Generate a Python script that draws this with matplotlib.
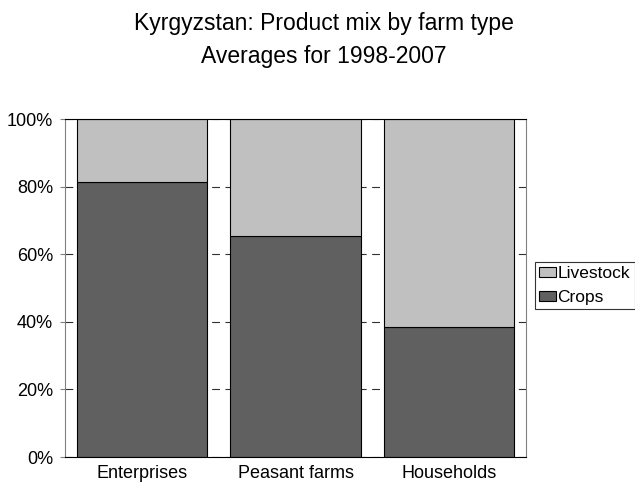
import matplotlib
matplotlib.use("Agg")
import matplotlib.pyplot as plt
from matplotlib.ticker import FuncFormatter

plt.rcParams['font.family'] = ['Liberation Sans', 'DejaVu Sans']

categories = ["Enterprises", "Peasant farms", "Households"]
crops = [81.3, 65.5, 38.5]
livestock = [100 - c for c in crops]
yticks = [0, 20, 40, 60, 80, 100]

fig = plt.figure(figsize=(6.35, 4.84), dpi=100)
ax = fig.add_axes([65/635, 1-457/484, 461/635, 338/484])

x = list(range(len(categories)))
ax.set_axisbelow(True)
ax.yaxis.grid(True, linestyle=(0, (7, 5)), color='#303030', linewidth=0.8)
b1 = ax.bar(x, crops, width=0.85, color='#606060', edgecolor='black', linewidth=0.8, label='Crops')
b2 = ax.bar(x, livestock, bottom=crops, width=0.85, color='#C0C0C0', edgecolor='black', linewidth=0.8, label='Livestock')

ax.set_xlim(-0.5, 2.5)
ax.set_ylim(0, 100)
ax.set_yticks(yticks)
ax.yaxis.set_major_formatter(FuncFormatter(lambda v, p: f"{int(v)}%"))
ax.set_xticks(x)
ax.set_xticklabels(categories)
ax.tick_params(axis='x', length=0, labelsize=13, pad=5.5)
ax.tick_params(axis='y', direction='out', length=3.6, width=0.8, labelsize=13, pad=5, color='#808080')
for s in ['left', 'right']:
    ax.spines[s].set_color('#808080')
ax.spines['top'].set_color('black')
ax.spines['bottom'].set_color('black')

fig.text(0.51, 1-30/484, "Kyrgyzstan: Product mix by farm type", ha='center', va='baseline', fontsize=16.5)
fig.text(0.51, 1-63/484, "Averages for 1998-2007", ha='center', va='baseline', fontsize=16.5)

leg = fig.legend(handles=[b2, b1], labels=['Livestock', 'Crops'], loc='upper left',
                 bbox_to_anchor=(535/635, 1-262/484), borderaxespad=0, frameon=True,
                 fancybox=False, fontsize=12.5, handlelength=0.95, handleheight=0.55,
                 handletextpad=0.1, borderpad=0.25, labelspacing=0.5)
leg.get_frame().set_edgecolor('black')
leg.get_frame().set_linewidth(0.8)

fig.savefig("out.png", dpi=100)
